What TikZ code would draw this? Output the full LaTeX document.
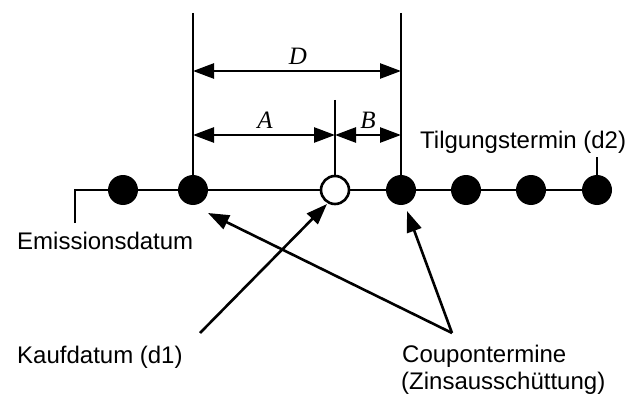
\documentclass[tikz,border=0pt]{standalone}
\usepackage{fontspec}
\setmainfont{Liberation Sans}
\newfontfamily\serifit{Liberation Serif}
\usetikzlibrary{arrows.meta}
\begin{document}
\begin{tikzpicture}[x=1pt,y=-1pt,
  ln/.style={line width=2.6pt},
  dot/.style={circle,fill=black,inner sep=0pt,minimum size=30pt},
  odot/.style={circle,draw=black,fill=white,line width=2.6pt,inner sep=0pt,minimum size=28pt},
  dim/.style={line width=2.6pt,{Triangle[length=21pt,width=15pt]}-{Triangle[length=21pt,width=15pt]}},
  ptr/.style={line width=2.6pt,-{Triangle[length=21pt,width=15pt]}},
  lbl/.style={font=\fontsize{24}{29}\selectfont,inner sep=0pt},
  dl/.style={font=\fontsize{25}{25}\selectfont\serifit\itshape,inner sep=0pt}]
\useasboundingbox (0,0) rectangle (638,396);
% timeline
\coordinate (hook) at (75,223);
\coordinate (hookc) at (75,190);
\coordinate (end) at (597,190);
\draw[ln] (hook) -- (hookc) -- (end);
\node[dot] (p1) at (123,190) {};
\node[dot] (p2) at (193,190) {};
\node[odot] (oc) at (335,190) {};
\node[dot] (p3) at (401,190) {};
\node[dot] (p4) at (466,190) {};
\node[dot] (p5) at (531,190) {};
\node[dot] (p6) at (597,190) {};
% vertical lines
\coordinate (t2) at (193,13);
\coordinate (t3) at (401,13);
\coordinate (tm) at (335,100);
\coordinate (t6) at (597,157);
\draw[ln] (t2) -- (p2.center);
\draw[ln] (t3) -- (p3.center);
\draw[ln] (tm) -- (oc.north);
\draw[ln] (t6) -- (p6.center);
% dimension arrows
\coordinate (dL) at (193,71);
\coordinate (dR) at (401,71);
\coordinate (aL) at (193,135);
\coordinate (aM) at (335,135);
\coordinate (aR) at (401,135);
\draw[dim] (dL) -- (dR);
\draw[dim] (aL) -- (aM);
\draw[dim] (aM) -- (aR);
\node[dl] (D) at (298,56) {D};
\node[dl] (A) at (265,120) {A};
\node[dl] (B) at (368,120) {B};
% labels
\node[lbl,anchor=base west] (tilg) at (420,148) {Tilgungstermin (d2)};
\node[lbl,anchor=base west] (emis) at (17,249) {Emissionsdatum};
\node[lbl,anchor=base west] (kauf) at (17,363) {Kaufdatum (d1)};
\node[lbl,anchor=base west] (coup) at (402,362) {Coupontermine};
\node[lbl,anchor=base west] (zins) at (401,389) {(Zinsausschüttung)};
% pointers
\coordinate (ks) at (200,333);
\coordinate (cs) at (452,333);
\draw[ptr] (ks) -- ([shift={(-8,14)}]oc.center);
\draw[ptr] (cs) -- ([shift={(15,23)}]p2.center);
\draw[ptr] (cs) -- ([shift={(6,21)}]p3.center);
\end{tikzpicture}
\end{document}
